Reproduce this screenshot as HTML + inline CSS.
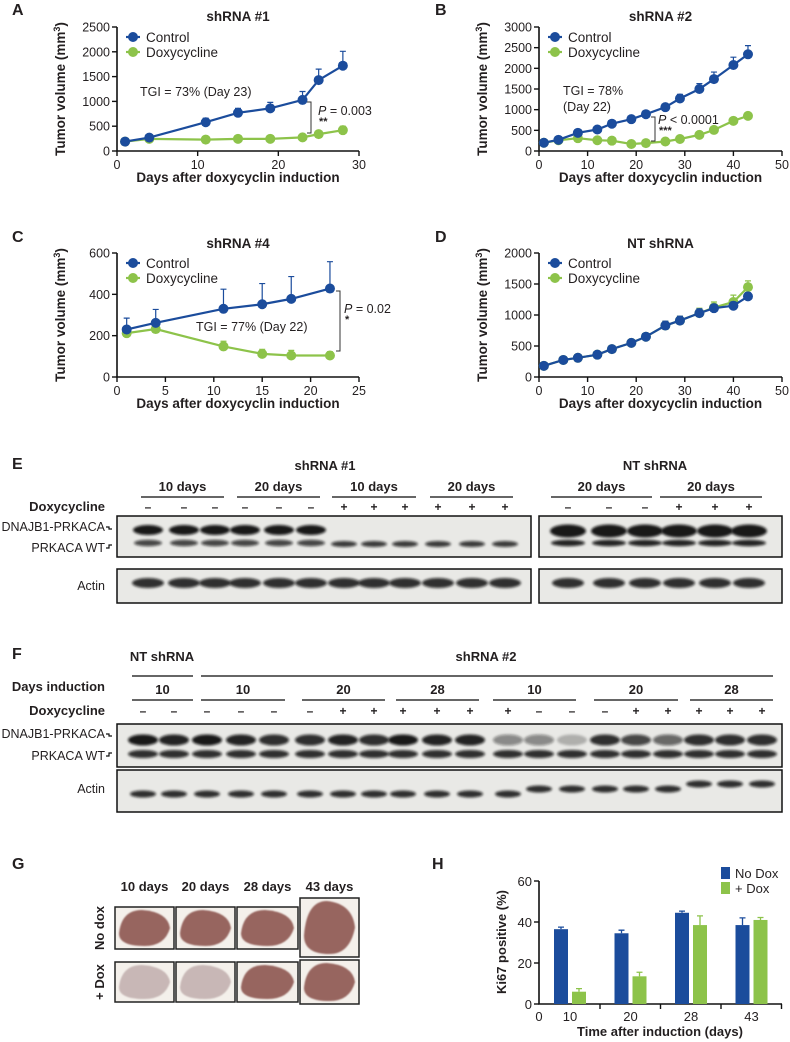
<!DOCTYPE html>
<html><head><meta charset="utf-8"><style>
html,body{margin:0;padding:0;background:#fff;}
svg{display:block;font-family:"Liberation Sans",Arial,sans-serif;}
.n{font-family:"Liberation Sans Narrow","Liberation Sans",sans-serif;}
</style></head><body>
<svg id="fig" width="790" height="1042" viewBox="0 0 790 1042" xmlns="http://www.w3.org/2000/svg">
<defs>
<filter id="blur" x="-20%" y="-50%" width="140%" height="200%"><feGaussianBlur stdDeviation="1.4"/></filter>
<filter id="blur2" x="-20%" y="-50%" width="140%" height="200%"><feGaussianBlur stdDeviation="0.8"/></filter>
</defs>
</svg>
<script>
// ---- Panel A data ----
const aDays=[1,4,11,15,19,23,25,28];
const aCtrl=[190,270,580,770,860,1030,1430,1720];
const aCtrlErr=[0,0,80,90,120,170,220,290];
const aDox=[190,245,230,245,245,275,340,420];
const aDoxErr=[0,0,0,0,0,0,60,80];
// ---- Panel B data ----
const bDays=[1,4,8,12,15,19,22,26,29,33,36,40,43];
const bCtrl=[200,270,440,520,660,770,890,1060,1270,1500,1740,2080,2340];
const bCtrlErr=[0,20,40,40,40,50,50,60,100,130,170,190,210];
const bDox=[200,260,310,260,250,170,190,230,290,390,510,730,850];
const bDoxErr=[0,0,30,0,0,0,0,0,0,0,30,50,50];
// ---- Panel C data ----
const cDays=[1,4,11,15,18,22];
const cCtrl=[230,262,330,352,378,428];
const cCtrlErr=[55,65,95,100,108,130];
const cDox=[212,232,148,112,104,104];
const cDoxErr=[20,0,25,22,25,18];
// ---- Panel D data ----
const dDays=[1,5,8,12,15,19,22,26,29,33,36,40,43];
const dCtrl=[180,275,310,360,450,550,650,830,910,1030,1110,1150,1300];
const dCtrlErr=[20,30,30,30,40,50,50,70,70,70,60,60,60];
const dDox=[180,275,310,360,450,550,650,830,910,1030,1120,1210,1450];
const dDoxErr=[20,30,30,30,40,50,50,70,70,80,90,110,100];
// ---- Panel H data ----
const hCats=['10','20','28','43'];
const hNoDox=[36.5,34.5,44.5,38.5];
const hNoDoxErr=[1,1.5,0.8,3.5];
const hDox=[6,13.5,38.5,41];
const hDoxErr=[1.5,2,4.5,1.2];

const NS='http://www.w3.org/2000/svg';
const svg=document.getElementById('fig');
const BLUE='#1b4c9c', GREEN='#8dc34a', INK='#231f20';
function mk(tag,attrs,parent){const e=document.createElementNS(NS,tag);for(const k in attrs)e.setAttribute(k,attrs[k]);(parent||svg).appendChild(e);return e;}
function txt(x,y,s,opts,name,parent){const e=mk('text',Object.assign({x:x,y:y,fill:INK},opts||{}),parent);e.textContent=s;


return e;}
function grp(name){const g=mk('g',{});


return g;}

function lineChart(c){
  const g=grp(c.name);
  const sx=v=>c.x0+(c.x1-c.x0)*v/c.xmax, sy=v=>c.y0-(c.y0-c.y1)*v/c.ymax;
  const ax=mk('path',{d:`M${c.x0},${c.y1}V${c.y0}H${c.x1}`,stroke:'#111',fill:'none','stroke-width':1.6},g);
  
  
  for(let v=0;v<=c.xmax;v+=c.xstep){mk('line',{x1:sx(v),x2:sx(v),y1:c.y0,y2:c.y0+5,stroke:'#111','stroke-width':1.4},g);
    txt(sx(v),c.y0+18,String(v),{'font-size':12.5,'text-anchor':'middle'},'x-tick-label',g);}
  for(let v=0;v<=c.ymax;v+=c.ystep){mk('line',{x1:c.x0-5,x2:c.x0,y1:sy(v),y2:sy(v),stroke:'#111','stroke-width':1.4},g);
    txt(c.x0-7,sy(v)+4.5,String(v),{'font-size':12.5,'text-anchor':'end'},'y-tick-label',g);}
  txt((c.x0+c.x1)/2,c.y0+31,'Days after doxycyclin induction',{'font-size':13.5,'font-weight':'bold','text-anchor':'middle'},'x-axis-title',g);
  const yc=(c.y0+c.y1)/2, yx=c.x0-52;
  const yt=txt(yx,yc,'Tumor volume (mm',{'font-size':13.5,'font-weight':'bold','text-anchor':'middle',transform:`rotate(-90 ${yx} ${yc})`},'y-axis-title',g);
  const sup=mk('tspan',{dy:-5,'font-size':9},yt);sup.textContent='3';
  const cl=mk('tspan',{dy:5},yt);cl.textContent=')';
  txt((c.x0+c.x1)/2,c.titleY,c.title,{'font-size':13.5,'font-weight':'bold','text-anchor':'middle'},'chart-title',g);
  function series(days,vals,errs,col,nm){
    const sg=mk('g',{},g);
    
    
    days.forEach((d,i)=>{if(errs[i]>0){const x=sx(d),y=sy(vals[i]),ye=sy(vals[i]+errs[i]);
      mk('path',{d:`M${x},${y}V${ye}M${x-3},${ye}H${x+3}`,stroke:col,'stroke-width':1.2,fill:'none'},sg);}});
    const pl=mk('polyline',{points:days.map((d,i)=>sx(d)+','+sy(vals[i])).join(' '),fill:'none',stroke:col,'stroke-width':2.2},sg);
    
    
    days.forEach((d,i)=>{const p=mk('circle',{cx:sx(d),cy:sy(vals[i]),r:5,fill:col},sg);
      
      });
  }
  series(c.days,c.dox,c.doxErr,GREEN,'doxycycline-series');
  series(c.days,c.ctrl,c.ctrlErr,BLUE,'control-series');
  const lx=c.x0+16, ly=c.y1+10;
  [[BLUE,'Control'],[GREEN,'Doxycycline']].forEach((e,i)=>{
    const le=mk('g',{},g);
    
    
    mk('line',{x1:lx-7,x2:lx+7,y1:ly+i*15,y2:ly+i*15,stroke:e[0],'stroke-width':2.2},le);
    mk('circle',{cx:lx,cy:ly+i*15,r:5,fill:e[0]},le);
    txt(lx+13,ly+i*15+5,e[1],{'font-size':13.5},'legend-label',le);
  });
  return g;
}
function bracket(x,ya,yb,name){const b=mk('path',{d:`M${x-4},${ya}H${x}V${yb}H${x-4}`,stroke:'#333','stroke-width':1,fill:'none'});
  
  }
function pval(x,y,rest,stars){const t=txt(x,y,'',{'font-size':12.5},'p-value');
  const i=mk('tspan',{'font-style':'italic'},t);i.textContent='P';const r=mk('tspan',{},t);r.textContent=rest;
  txt(x+1,y+10,stars,{'font-size':11,'font-weight':'bold'},'significance-stars');}

[['A',12,15],['B',435,15],['C',12,242],['D',435,242],['E',12,469],['F',12,659],['G',12,869],['H',432,869]].forEach(p=>{
  txt(p[1],p[2],p[0],{'font-size':16,'font-weight':'bold'},'panel-label-'+p[0].toLowerCase());});

lineChart({name:'chart-a',x0:117,x1:359,y0:151,y1:27,xmax:30,xstep:10,ymax:2500,ystep:500,days:aDays,ctrl:aCtrl,ctrlErr:aCtrlErr,dox:aDox,doxErr:aDoxErr,title:'shRNA #1',titleY:21});
txt(140,96,'TGI = 73% (Day 23)',{'font-size':12.5},'tgi-annotation');
bracket(311,102,133,'significance-bracket');pval(318,115,' = 0.003','**');

lineChart({name:'chart-b',x0:539,x1:782,y0:151,y1:27,xmax:50,xstep:10,ymax:3000,ystep:500,days:bDays,ctrl:bCtrl,ctrlErr:bCtrlErr,dox:bDox,doxErr:bDoxErr,title:'shRNA #2',titleY:21});
txt(563,95,'TGI = 78%',{'font-size':12.5},'tgi-annotation');
txt(563,111,'(Day 22)',{'font-size':12.5},'tgi-day');
bracket(655,117,141,'significance-bracket');pval(658,124,' < 0.0001','***');

lineChart({name:'chart-c',x0:117,x1:359,y0:377,y1:253,xmax:25,xstep:5,ymax:600,ystep:200,days:cDays,ctrl:cCtrl,ctrlErr:cCtrlErr,dox:cDox,doxErr:cDoxErr,title:'shRNA #4',titleY:248});
txt(196,331,'TGI = 77% (Day 22)',{'font-size':12.5},'tgi-annotation');
bracket(340,291,351,'significance-bracket');pval(344,313,' = 0.02','*');

lineChart({name:'chart-d',x0:539,x1:782,y0:377,y1:253,xmax:50,xstep:10,ymax:2000,ystep:500,days:dDays,ctrl:dCtrl,ctrlErr:dCtrlErr,dox:dDox,doxErr:dDoxErr,title:'NT shRNA',titleY:248});

function blotBox(x,y,w,h,name){const r=mk('rect',{x:x,y:y,width:w,height:h,fill:'#e9e9e6',stroke:'#111','stroke-width':1.5});
  
  }
function band(cx,cy,rx,ry,op,name){const b=mk('ellipse',{cx:cx,cy:cy,rx:rx,ry:ry,fill:'#111','fill-opacity':op,filter:'url(#blur)'});
  
  }
function groupLabel(x1,x2,y,label,name){const l=mk('line',{x1:x1,x2:x2,y1:y,y2:y,stroke:'#333','stroke-width':1.5});
  
  
  if(label)txt((x1+x2)/2,y-6,label,{'font-size':13,'font-weight':'bold','text-anchor':'middle',class:'n'},name);}
function sideLabel(x,y,s,name,br){txt(x,y,s,{'font-size':12.5,'text-anchor':'end',class:'n'},name);
  if(br)mk('path',{d:`M${x+1},${y-4}H${x+4}V${y-4+br}H${x+7}`,stroke:'#111','stroke-width':1.2,fill:'none'});}

// E
txt(325,470,'shRNA #1',{'font-size':13,'font-weight':'bold','text-anchor':'middle',class:'n'},'blot-e-title');
txt(655,470,'NT shRNA',{'font-size':13,'font-weight':'bold','text-anchor':'middle',class:'n'},'blot-e-nt-title');
[[141,224,'10 days'],[237,320,'20 days'],[332,416,'10 days'],[430,513,'20 days'],[551,652,'20 days'],[660,762,'20 days']].forEach(g=>groupLabel(g[0],g[1],497,g[2],'days-group-label'));
const eLanes=[148,184,215,245,279,311,344,374,405,438,472,505,568,609,645,679,715,749];
const eDox=['-','-','-','-','-','-','+','+','+','+','+','+','-','-','-','+','+','+'];
txt(105,511,'Doxycycline',{'font-size':13,'font-weight':'bold','text-anchor':'end',class:'n'},'doxycycline-row-label');
eLanes.forEach((x,i)=>txt(x,511,eDox[i]==='-'?'–':'+',{'font-size':12,'font-weight':'bold','text-anchor':'middle'},'dox-sign'));
blotBox(117,516,414,41,'blot-e-shrna1');blotBox(539,516,243,41,'blot-e-nt');
blotBox(117,569,414,34,'actin-e-shrna1');blotBox(539,569,243,34,'actin-e-nt');
sideLabel(105,531,'DNAJB1-PRKACA','fusion-band-label',2);sideLabel(105,552,'PRKACA WT','wt-band-label',-3);
sideLabel(105,590,'Actin','actin-label',0);
eLanes.forEach((x,i)=>{const nt=i>=12;const w=nt?18:15;
  if(eDox[i]==='-'||nt){band(x,nt?531:530,w,nt?6.5:5,0.95,'fusion-band');band(x,543,w-1,3.2,nt?0.9:0.75,'wt-band');}
  else band(x,544,13,3,0.8,'wt-band');
  band(x,583,16,5,0.85,'actin-band');});

// F
txt(162,661,'NT shRNA',{'font-size':13,'font-weight':'bold','text-anchor':'middle',class:'n'},'blot-f-nt-title');
txt(486,661,'shRNA #2',{'font-size':13,'font-weight':'bold','text-anchor':'middle',class:'n'},'blot-f-title');
groupLabel(132,193,676,'','nt-bar');groupLabel(201,773,676,'','shrna2-bar');
txt(105,691,'Days induction',{'font-size':13,'font-weight':'bold','text-anchor':'end',class:'n'},'days-induction-label');
[[132,193,'10'],[201,285,'10'],[302,385,'20'],[396,479,'28'],[493,576,'10'],[594,678,'20'],[690,773,'28']].forEach(g=>groupLabel(g[0],g[1],700,g[2],'days-group-label'));
const fLanes=[143,174,207,241,274,310,343,374,403,437,470,508,539,572,605,636,668,699,730,762];
const fDox=['-','-','-','-','-','-','+','+','+','+','+','+','-','-','-','+','+','+','+','+'];
txt(105,715,'Doxycycline',{'font-size':13,'font-weight':'bold','text-anchor':'end',class:'n'},'doxycycline-row-label');
fLanes.forEach((x,i)=>txt(x,715,fDox[i]==='-'?'–':'+',{'font-size':12,'font-weight':'bold','text-anchor':'middle'},'dox-sign'));
blotBox(117,724,665,43,'blot-f');blotBox(117,770,665,42,'actin-f');
sideLabel(105,738,'DNAJB1-PRKACA','fusion-band-label',2);sideLabel(105,760,'PRKACA WT','wt-band-label',-3);
sideLabel(105,793,'Actin','actin-label',0);
const fUpper=[0.95,0.9,0.95,0.9,0.85,0.85,0.9,0.85,0.95,0.9,0.9,0.45,0.45,0.25,0.85,0.75,0.6,0.85,0.85,0.85];
fLanes.forEach((x,i)=>{band(x,740,15,5.5,fUpper[i],'fusion-band');band(x,754,15,4,0.85,'wt-band');
  const ay=i<12?794:(i<17?789:784);band(x,ay,13,3.5,0.85,'actin-band');});

// G
const gCols=[[115,174],[176,235],[237,298],[300,359]];
const gHead=['10 days','20 days','28 days','43 days'];
gHead.forEach((h,i)=>txt((gCols[i][0]+gCols[i][1])/2,891,h,{'font-size':13,'font-weight':'bold','text-anchor':'middle',class:'n'},'timepoint-header'));
const gRows=[[[907,949],[907,949],[907,949],[898,957]],[[962,1002],[962,1002],[962,1002],[960,1004]]];
const gPale=[[false,false,false,false],[true,true,false,false]];
gRows.forEach((row,r)=>row.forEach((yy,c)=>{
  const x0=gCols[c][0],x1=gCols[c][1],y0=yy[0],y1=yy[1];
  const bx=mk('rect',{x:x0,y:y0,width:x1-x0,height:y1-y0,fill:'#f4f0eb',stroke:'#222','stroke-width':1.5});
  
  
  const cx=(x0+x1)/2,cy=(y0+y1)/2,w=(x1-x0)/2-4,h=(y1-y0)/2-3;
  const col=gPale[r][c]?'#c8b7b6':'#97655e';
  mk('path',{d:`M${cx-w},${cy+h*0.3} Q${cx-w*0.9},${cy-h} ${cx-w*0.1},${cy-h} Q${cx+w*0.9},${cy-h*0.9} ${cx+w},${cy} Q${cx+w*0.8},${cy+h} ${cx},${cy+h} Q${cx-w},${cy+h} ${cx-w},${cy+h*0.3}Z`,fill:col,filter:'url(#blur2)'});
}));
txt(0,0,'No dox',{'font-size':13,'font-weight':'bold','text-anchor':'middle',transform:'translate(104 928) rotate(-90)'},'row-label-no-dox');
txt(0,0,'+ Dox',{'font-size':13,'font-weight':'bold','text-anchor':'middle',transform:'translate(104 982) rotate(-90)'},'row-label-dox');

// H
(function(){
  const g=grp('chart-h');
  const x0=539,x1=782,y0=1004,y1=881,ymax=60;
  const sy=v=>y0-(y0-y1)*v/ymax, cx=i=>x0+31+60.5*i;
  mk('path',{d:`M${x0},${y1}V${y0}H${x1}`,stroke:'#111',fill:'none','stroke-width':1.6},g);
  for(let v=0;v<=ymax;v+=20){mk('line',{x1:x0-5,x2:x0,y1:sy(v),y2:sy(v),stroke:'#111','stroke-width':1.4},g);
    txt(x0-7,sy(v)+5,String(v),{'font-size':13,'text-anchor':'end',class:'n'},'y-tick-label',g);}
  txt(x0,y0+17,'0',{'font-size':13,'text-anchor':'middle',class:'n'},'x-origin-label',g);
  hCats.forEach((c,i)=>{
    mk('line',{x1:cx(i)+30,x2:cx(i)+30,y1:y0,y2:y0+5,stroke:'#111','stroke-width':1.4},g);
    txt(cx(i),y0+17,c,{'font-size':13,'text-anchor':'middle',class:'n'},'x-tick-label',g);
    [[hNoDox,hNoDoxErr,BLUE,-9,'bar-no-dox'],[hDox,hDoxErr,GREEN,9,'bar-dox']].forEach(s=>{
      const v=s[0][i],e=s[1][i],bx=cx(i)+s[3];
      const b=mk('rect',{x:bx-7,y:sy(v),width:14,height:y0-sy(v),fill:s[2]},g);
      
      
      mk('path',{d:`M${bx},${sy(v)}V${sy(v+e)}M${bx-3},${sy(v+e)}H${bx+3}`,stroke:s[2],'stroke-width':1.3,fill:'none'},g);
    });
  });
  txt(660,1036,'Time after induction (days)',{'font-size':13,'font-weight':'bold','text-anchor':'middle',class:'n'},'x-axis-title',g);
  txt(0,0,'Ki67 positive (%)',{'font-size':13,'font-weight':'bold','text-anchor':'middle',transform:'translate(506 942) rotate(-90)'},'y-axis-title',g);
  [[BLUE,'No Dox',873],[GREEN,'+ Dox',888]].forEach(l=>{
    const le=mk('g',{},g);
    
    
    mk('rect',{x:721,y:l[2]-6,width:9,height:12,fill:l[0]},le);
    txt(735,l[2]+5,l[1],{'font-size':13,class:'n'},'legend-label',le);
  });
})();
</script>
</body></html>
